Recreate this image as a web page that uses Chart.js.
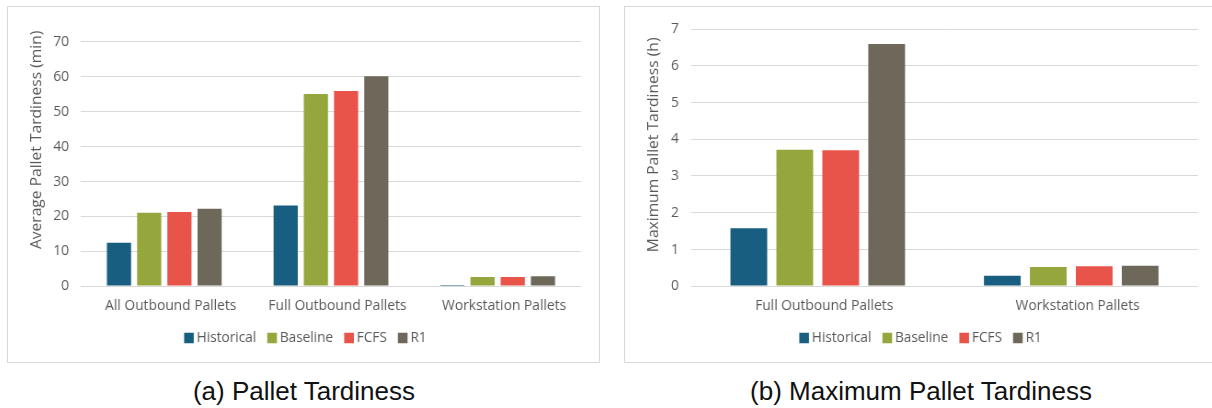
<!DOCTYPE html>
<html>
<head>
<meta charset="utf-8">
<script src="https://cdn.jsdelivr.net/npm/chart.js@4.4.1/dist/chart.umd.min.js"></script>
<style>
  html, body { margin: 0; padding: 0; background: #fff; }
  body { width: 1212px; height: 408px; position: relative; overflow: hidden; }
  .panel { position: absolute; top: 6px; height: 357px; box-sizing: border-box;
           border: 1px solid #d9d9d9; background: #fff; overflow: hidden; }
  .squeeze { position: absolute; left: 0; top: 0; transform: scaleX(0.92); transform-origin: 0 0; }
  .caption { position: absolute; top: 378px; width: 500px; height: 26px; line-height: 26px;
             font-family: "Liberation Sans", Arial, sans-serif; font-size: 26px; color: #111;
             text-align: center; white-space: nowrap; }
</style>
</head>
<body>
<div class="panel" style="left:7px; width:593px;">
  <div class="squeeze"><canvas id="avgChart" width="642" height="355"></canvas></div>
</div>
<div class="panel" style="left:624px; width:600px;">
  <div class="squeeze"><canvas id="maxChart" width="638" height="355"></canvas></div>
</div>
<div class="caption" style="left:54px;">(a) Pallet Tardiness</div>
<div class="caption" style="left:671px;">(b) Maximum Pallet Tardiness</div>

<script>
// Series names and colours
const seriesNames = ['Historical', 'Baseline', 'FCFS', 'R1'];
const seriesColors = ['#185e80', '#95a63c', '#e8534a', '#6e685b'];

// (a) Average pallet tardiness, minutes
const avgCategories = ['All Outbound Pallets', 'Full Outbound Pallets', 'Workstation Pallets'];
const avgHistorical = [12.4, 23.1, 0.3];
const avgBaseline   = [21.0, 55.0, 2.6];
const avgFCFS       = [21.2, 55.9, 2.6];
const avgR1         = [22.1, 60.1, 2.8];
const avgTicks = [0, 10, 20, 30, 40, 50, 60, 70];

// (b) Maximum pallet tardiness, hours
const maxCategories = ['Full Outbound Pallets', 'Workstation Pallets'];
const maxHistorical = [1.57, 0.28];
const maxBaseline   = [3.71, 0.52];
const maxFCFS       = [3.70, 0.54];
const maxR1         = [6.59, 0.55];
const maxTicks = [0, 1, 2, 3, 4, 5, 6, 7];

const TEXT = '#595959';
const GRID = '#d9d9d9';
const FONT = '"Open Sans", "DejaVu Sans", sans-serif';
const PAD_LEFT = 8.7;

// Rotated y-axis title drawn beside the value axis
const axisTitle = {
  id: 'axisTitle',
  afterDraw(chart, args, opts) {
    if (!opts || !opts.text) return;
    const { ctx, chartArea } = chart;
    ctx.save();
    ctx.translate(opts.x, (chartArea.top + chartArea.bottom) / 2 + opts.shift);
    ctx.rotate(-Math.PI / 2);
    ctx.font = opts.size + 'px ' + FONT;
    ctx.fillStyle = TEXT;
    ctx.textAlign = 'center';
    ctx.textBaseline = 'middle';
    ctx.fillText(opts.text, 0, 0);
    ctx.restore();
  }
};

function buildDatasets(cols) {
  return seriesNames.map((name, i) => ({
    label: name,
    data: cols[i],
    backgroundColor: seriesColors[i],
    borderWidth: 0,
    categoryPercentage: 0.725,
    barPercentage: 0.8
  }));
}

function makeChart(id, cfg) {
  const ticks = cfg.ticks;
  return new Chart(document.getElementById(id), {
    type: 'bar',
    data: { labels: cfg.categories, datasets: buildDatasets(cfg.series) },
    plugins: [axisTitle],
    options: {
      responsive: false,
      animation: false,
      events: [],
      layout: { padding: { top: cfg.padTop, right: 0, bottom: 6.6, left: PAD_LEFT } },
      scales: {
        x: {
          grid: { display: false, drawTicks: false },
          border: { display: false },
          ticks: { color: TEXT, font: { family: FONT, size: 15 }, padding: 10.5,
                   labelOffset: 7, maxRotation: 0, autoSkip: false },
          afterFit(scale) { scale.height = 28.35; }
        },
        y: {
          min: ticks[0],
          max: ticks[ticks.length - 1],
          afterBuildTicks(scale) { scale.ticks = ticks.map(v => ({ value: v })); },
          grid: { color: GRID, lineWidth: 1, drawTicks: false },
          border: { display: false },
          ticks: { color: TEXT, font: { family: FONT, size: 15 }, padding: 13 },
          afterFit(scale) { scale.width = cfg.axisWidth - PAD_LEFT; }
        },
        // empty margin to the right of the plot
        yRight: {
          position: 'right',
          grid: { display: false, drawTicks: false },
          border: { display: false },
          ticks: { display: false },
          afterFit(scale) { scale.width = cfg.padRight; }
        }
      },
      plugins: {
        legend: {
          position: 'bottom',
          labels: {
            color: TEXT,
            font: { family: FONT, size: 14.8 },
            usePointStyle: true,
            pointStyle: 'rect',
            boxWidth: 2,
            boxHeight: 10.5,
            padding: 16.25
          }
        },
        tooltip: { enabled: false },
        axisTitle: { text: cfg.title, x: 32, shift: cfg.titleShift, size: 15.6 }
      }
    }
  });
}

makeChart('avgChart', {
  categories: avgCategories,
  series: [avgHistorical, avgBaseline, avgFCFS, avgR1],
  ticks: avgTicks,
  title: 'Average Pallet Tardiness (min)',
  padTop: 34.7,
  padRight: 19.2,
  axisWidth: 79.3,
  titleShift: -24
});

makeChart('maxChart', {
  categories: maxCategories,
  series: [maxHistorical, maxBaseline, maxFCFS, maxR1],
  ticks: maxTicks,
  title: 'Maximum Pallet Tardiness (h)',
  padTop: 17,
  padRight: 15.2,
  axisWidth: 71.7,
  titleShift: -12.7
});
</script>
</body>
</html>
